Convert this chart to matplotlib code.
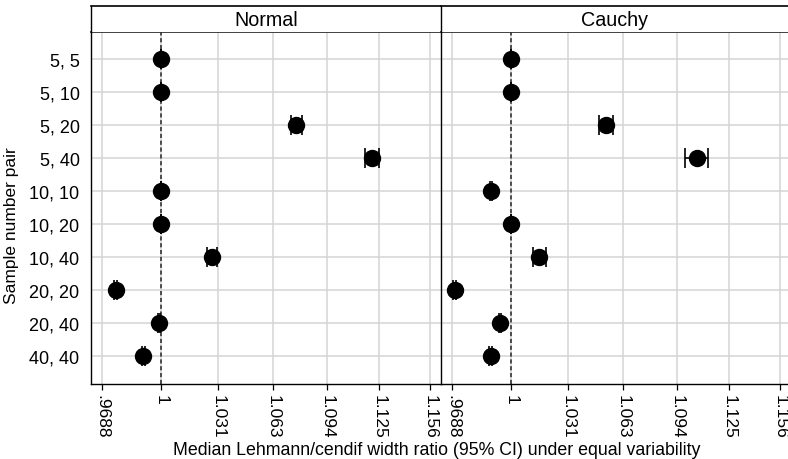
import numpy as np
import matplotlib
matplotlib.use("Agg")
import matplotlib.pyplot as plt
from matplotlib.ticker import FixedLocator, NullLocator, NullFormatter

plt.rcParams['font.family'] = ['Liberation Sans', 'DejaVu Sans']

# Sample size pairs (rows, top to bottom)
pairs = ["5, 5", "5, 10", "5, 20", "5, 40", "10, 10",
         "10, 20", "10, 40", "20, 20", "20, 40", "40, 40"]

# Median width ratio and 95% CI, normal data
normal_med = [1.0, 1.0, 1.0756, 1.1207, 1.0, 1.0, 1.0281, 0.9758, 0.9988, 0.9905]
normal_lo = [1.0, 1.0, 1.0725, 1.1164, 1.0, 1.0, 1.0253, 0.9750, 0.9982, 0.9898]
normal_hi = [1.0, 1.0, 1.0791, 1.1249, 1.0, 1.0, 1.0309, 0.9766, 0.9994, 0.9912]

# Median width ratio and 95% CI, Cauchy data
cauchy_med = [1.0, 1.0, 1.0525, 1.1056, 0.9892, 1.0, 1.0151, 0.9698, 0.9939, 0.9889]
cauchy_lo = [1.0, 1.0, 1.0483, 1.0984, 0.9885, 1.0, 1.0116, 0.9691, 0.9932, 0.9882]
cauchy_hi = [1.0, 1.0, 1.0567, 1.1122, 0.9899, 1.0, 1.0189, 0.9705, 0.9946, 0.9896]

panels = ["Normal", "Cauchy"]
xtick_vals = [31 / 32, 1.0, 33 / 32, 34 / 32, 35 / 32, 36 / 32, 37 / 32]
xtick_labels = [".9688", "1", "1.031", "1.063", "1.094", "1.125", "1.156"]

W, H = 788, 460
fig = plt.figure(figsize=(W / 100, H / 100), dpi=100)


def fx(px):
    return px / W


def fy(px):
    return 1 - px / H


# panel extents in pixels (the right panel runs slightly past the canvas)
panel_x = [(90.7, 441.0), (441.0, 791.0)]
top_px, bot_px, strip_top_px = 33.0, 385.0, 7.0

data = [(normal_med, normal_lo, normal_hi), (cauchy_med, cauchy_lo, cauchy_hi)]
y = np.arange(len(pairs))

for k, (name, (med, lo, hi)) in enumerate(zip(panels, data)):
    x0, x1 = panel_x[k]
    ax = fig.add_axes([fx(x0), fy(bot_px), fx(x1 - x0), (bot_px - top_px) / H])
    med = np.array(med)
    err = [med - np.array(lo), np.array(hi) - med]

    ax.set_xscale('log')
    ax.set_xlim(0.96275, 1.1632)
    ax.set_ylim(9.85, -0.82)

    ax.grid(True, color='#d4d4d4', linewidth=1.1, zorder=0)
    ax.axvline(1.0, color='#333333', linestyle=(0, (2.5, 1.6)), linewidth=1.2, zorder=2)
    ax.errorbar(med, y, xerr=err, fmt='o', color='black', markersize=11.5,
                capsize=7.2, elinewidth=1.2, capthick=1.2, zorder=3)

    ax.xaxis.set_major_locator(FixedLocator(xtick_vals))
    ax.xaxis.set_minor_locator(NullLocator())
    ax.xaxis.set_minor_formatter(NullFormatter())
    ax.set_xticklabels(xtick_labels, rotation=270, va='top', ha='center', fontsize=12.5)
    ax.tick_params(axis='x', length=4, width=0.9, pad=3)

    ax.set_yticks(y)
    if k == 0:
        ax.set_yticklabels(pairs, fontsize=13)
        ax.tick_params(axis='y', length=0, pad=8)
    else:
        ax.set_yticklabels([])
        ax.tick_params(axis='y', length=0)

    ax.spines['top'].set_color('#333333')
    ax.spines['top'].set_linewidth(1.3)
    ax.spines['right'].set_visible(False)
    for s in ['left', 'bottom']:
        ax.spines[s].set_color('black')
        ax.spines[s].set_linewidth(1.0)

    # facet strip
    sx = fig.add_axes([fx(x0), fy(top_px), fx(x1 - x0), (top_px - strip_top_px) / H])
    sx.set_xticks([])
    sx.set_yticks([])
    for s in ['right', 'bottom']:
        sx.spines[s].set_visible(False)
    sx.spines['top'].set_linewidth(1.2)
    sx.spines['left'].set_linewidth(1.0)
    # centre the label on the visible part of the strip
    cx = (min(x1, W) + x0) / 2
    sx.text((cx - x0) / (x1 - x0), 0.5, name, ha='center', va='center',
            fontsize=14.2, transform=sx.transAxes)

fig.text(fx(12), fy(226), "Sample number pair", rotation=90, ha='center', va='center',
         fontsize=12.5)
fig.text(fx(437), fy(451), "Median Lehmann/cendif width ratio (95% CI) under equal variability",
         ha='center', va='center', fontsize=12.8)

fig.savefig("out.png", dpi=100)
